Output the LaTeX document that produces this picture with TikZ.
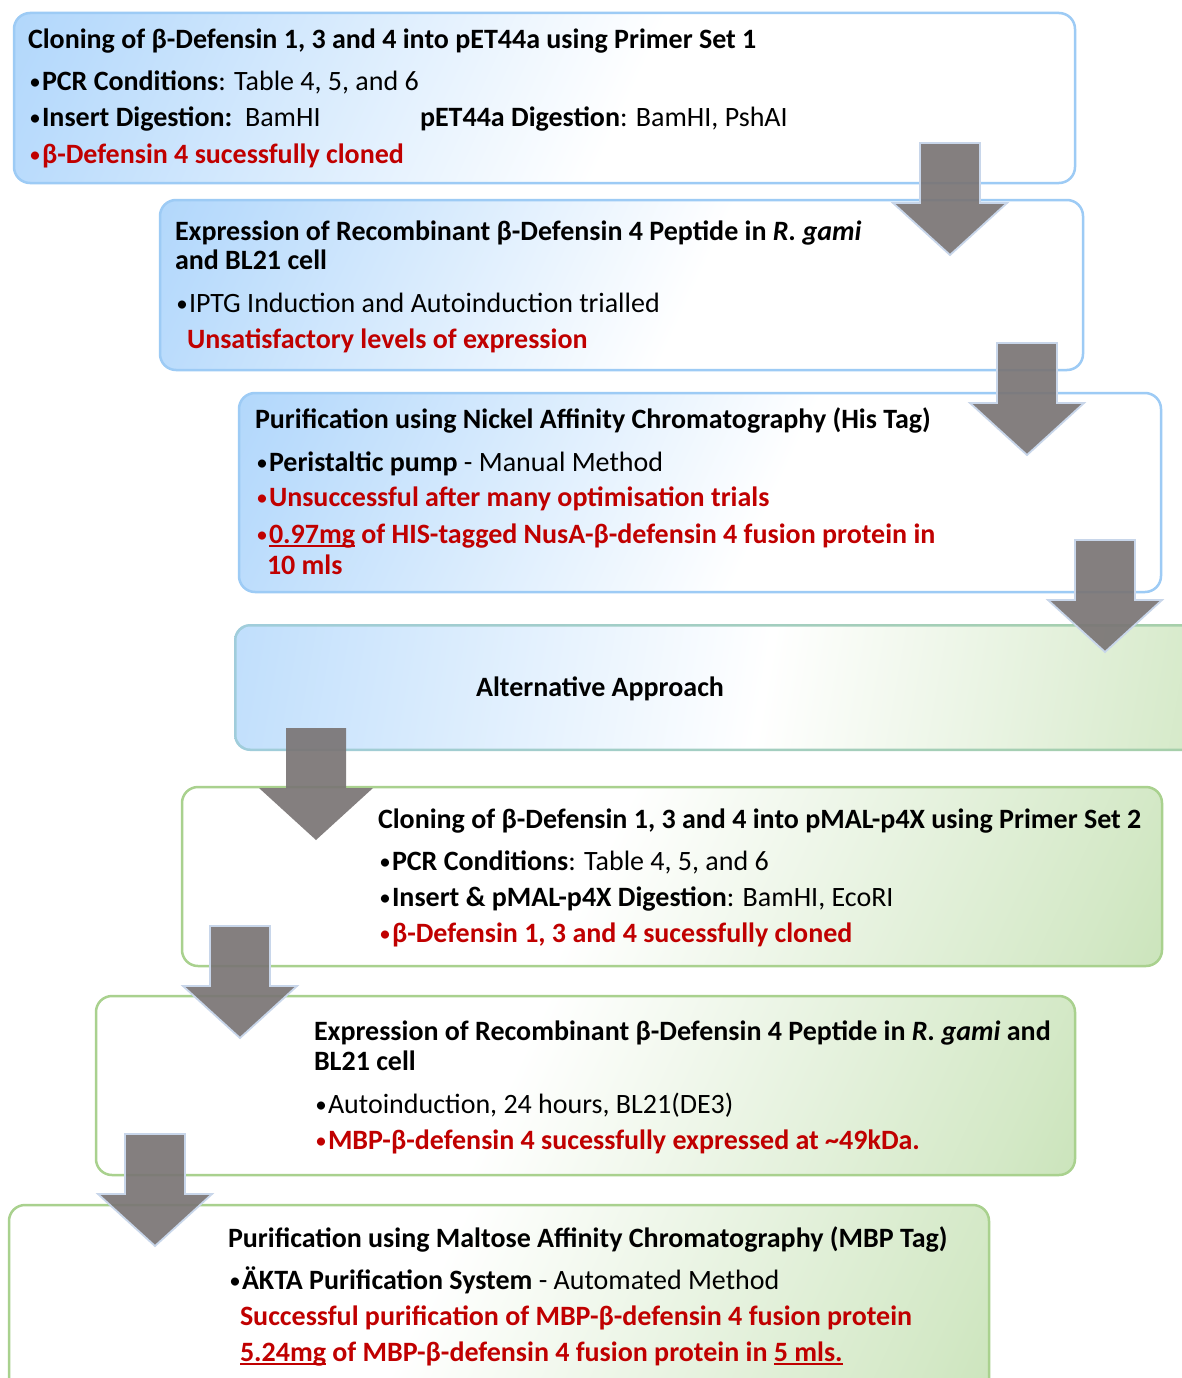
\documentclass[tikz,border=0pt]{standalone}
\usepackage{fontspec}
\setmainfont{Carlito}
\usetikzlibrary{calc}

\definecolor{blueedge}{RGB}{157,203,245}
\definecolor{bluefill}{RGB}{150,201,250}
\definecolor{greenedge}{RGB}{169,209,142}
\definecolor{greenfill}{RGB}{176,214,152}
\definecolor{arrowgray}{RGB}{122,117,117}
\definecolor{arrowedge}{RGB}{200,214,234}
\definecolor{txtred}{RGB}{192,0,0}

% diagonal fills of the step boxes
\pgfdeclarehorizontalshading{bluefade}{100bp}{color(0bp)=(bluefill); color(22bp)=(bluefill!65!white); color(55bp)=(white); color(100bp)=(white)}
\pgfdeclarehorizontalshading{greenfade}{100bp}{color(0bp)=(white); color(45bp)=(white); color(78bp)=(greenfill!55!white); color(100bp)=(greenfill)}
\pgfdeclarehorizontalshading{mixfade}{100bp}{color(0bp)=(bluefill); color(52bp)=(white); color(100bp)=(greenfill)}
\pgfdeclarehorizontalshading{mixedge}{100bp}{color(0bp)=(blueedge); color(100bp)=(greenedge)}

% underline drawn in the current text colour
\newcommand\myul[1]{\setbox0\hbox{#1}\rlap{\rule[-4pt]{\wd0}{2pt}}\box0\relax}
% list bullet: regular weight, a little smaller than the text
\newcommand\bul{\makebox[14pt][c]{\fontsize{23}{23}\selectfont\mdseries\raisebox{1pt}{•}}}

\tikzset{
  x=1pt, y=-1pt,
  every node/.style={font=\fontsize{28}{30}\selectfont, inner sep=0pt, outer sep=0pt},
  boxbase/.style={anchor=north west, line width=2.5pt, rounded corners=16pt},
  bluebox/.style={boxbase, draw=blueedge, shading=bluefade, shading angle=-25},
  greenbox/.style={boxbase, draw=greenedge, shading=greenfade, shading angle=-25},
  mixborder/.style={boxbase, shading=mixedge, shading angle=0},
  mixinner/.style={line width=0pt, rounded corners=14pt, shading=mixfade, shading angle=-10},
  txt/.style={anchor=base west, text=black},
  alert/.style={anchor=base west, text=txtred, font=\fontsize{28}{30}\selectfont\bfseries},
  arrowrim/.style={draw=arrowedge, line width=1.8pt},
  pics/downarrow/.style={code={
    \path[fill=arrowgray, fill opacity=0.92, line join=miter, arrowrim]
      (-30,-112) -- (30,-112) -- (30,-52) -- (57,-52) -- (0,0)
      -- (-57,-52) -- (-30,-52) -- cycle;}}
}

\begin{document}
\begin{tikzpicture}
\useasboundingbox (0,0) rectangle (1182,1378);
\fill[white] (0,0) rectangle (1182,1378);

% ---------- step boxes ----------
\node[bluebox, minimum width=1061pt, minimum height=170pt] (clone1) at (14,13) {};
\node[bluebox, minimum width=923pt, minimum height=170pt] (expr1) at (160,200) {};
\node[bluebox, minimum width=922pt, minimum height=199pt] (purif1) at (239,393) {};
\node[mixborder, minimum width=990pt, minimum height=127pt] (alt) at (234,624) {};
\node[mixinner, minimum width=985pt, minimum height=122pt] (altfill) at (alt.center) {};
\node[greenbox, minimum width=980pt, minimum height=179pt] (clone2) at (182,787) {};
\node[greenbox, minimum width=979pt, minimum height=179pt] (expr2) at (96,996) {};
\node[greenbox, minimum width=980pt, minimum height=210pt] (purif2) at (9,1205) {};

% ---------- texts: first route ----------
\node[txt] (c1a) at (28,49) {\bfseries Cloning of β-Defensin 1, 3 and 4 into pET44a using Primer Set 1};
\node[txt] (c1b) at (28,91) {\bul\textbf{PCR Conditions}: Table 4, 5, and 6};
\node[txt] (c1c) at (28,127) {\bul\textbf{Insert Digestion:}\ \ BamHI};
\node[txt] (c1d) at (420,127) {\textbf{pET44a Digestion}: BamHI, PshAI};
\node[alert] (c1e) at (28,163) {\bul β-Defensin 4 sucessfully cloned};

\node[txt] (e1a) at (175,240) {\bfseries Expression of Recombinant β-Defensin 4 Peptide in \textit{R. gami}};
\node[txt] (e1b) at (175,269) {\bfseries and BL21 cell};
\node[txt] (e1c) at (175,312) {\bul IPTG Induction and Autoinduction trialled};
\node[alert] (e1d) at (187,348) {Unsatisfactory levels of expression};

\node[txt] (p1a) at (255,428) {\bfseries Purification using Nickel Affinity Chromatography (His Tag)};
\node[txt] (p1b) at (255,471) {\bul\textbf{Peristaltic pump} - Manual Method};
\node[alert] (p1c) at (255,506) {\bul Unsuccessful after many optimisation trials};
\node[alert] (p1d) at (255,543) {\bul\myul{0.97mg} of HIS-tagged NusA-β-defensin 4 fusion protein in};
\node[alert] (p1e) at (267,574) {10 mls};

\node[anchor=base, font=\fontsize{28}{30}\selectfont\bfseries] (altt) at (600,696) {Alternative Approach};

% ---------- texts: second route ----------
\node[txt] (c2a) at (378,828) {\bfseries Cloning of β-Defensin 1, 3 and 4 into pMAL-p4X using Primer Set 2};
\node[txt] (c2b) at (378,870) {\bul\textbf{PCR Conditions}: Table 4, 5, and 6};
\node[txt] (c2c) at (378,906) {\bul\textbf{Insert \& pMAL-p4X Digestion}: BamHI, EcoRI};
\node[alert] (c2d) at (378,942) {\bul β-Defensin 1, 3 and 4 sucessfully cloned};

\node[txt] (e2a) at (314,1040) {\bfseries Expression of Recombinant β-Defensin 4 Peptide in \textit{R. gami} and};
\node[txt] (e2b) at (314,1070) {\bfseries BL21 cell};
\node[txt] (e2c) at (314,1113) {\bul Autoinduction, 24 hours, BL21(DE3)};
\node[alert] (e2d) at (314,1149) {\bul MBP-β-defensin 4 sucessfully expressed at \textasciitilde49kDa.};

\node[txt] (p2a) at (228,1247) {\bfseries Purification using Maltose Affinity Chromatography (MBP Tag)};
\node[txt] (p2b) at (228,1289) {\bul\textbf{ÄKTA Purification System} - Automated Method};
\node[alert] (p2c) at (240,1325) {Successful purification of MBP-β-defensin 4 fusion protein};
\node[alert] (p2d) at (240,1361) {\myul{5.24mg} of MBP-β-defensin 4 fusion protein in \myul{5 mls.}};

% ---------- block arrows between the steps ----------
\pic at (950,255) {downarrow};
\pic at (1027,455) {downarrow};
\pic at (1105,652) {downarrow};
\pic[arrowrim/.style={draw=none}] at (316,840) {downarrow};
\pic at (240,1038) {downarrow};
\pic at (155,1246) {downarrow};
\end{tikzpicture}
\end{document}
